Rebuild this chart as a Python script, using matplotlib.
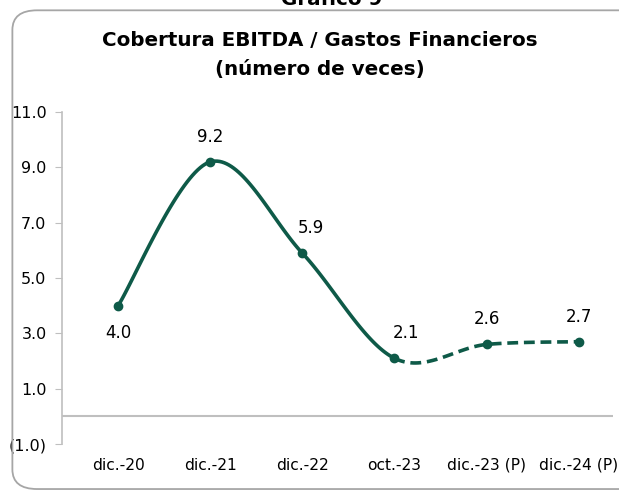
import numpy as np
import matplotlib.pyplot as plt
from matplotlib.patches import FancyBboxPatch

# Data
categories = ['dic.-20', 'dic.-21', 'dic.-22', 'oct.-23', 'dic.-23 (P)', 'dic.-24 (P)']
values = [4.0, 9.2, 5.9, 2.1, 2.6, 2.7]
labels = ['4.0', '9.2', '5.9', '2.1', '2.6', '2.7']
label_dx = [0, 0, 6, 8, 0, 0]  # small horizontal nudges of the data labels (points)
label_pos = ['below', 'above', 'above', 'above', 'above', 'above']
n_solid = 4  # first points drawn solid, the rest dashed (projections)

green = '#0e5a48'


# Excel-style smoothed line (Catmull-Rom / Bezier with 1/6 tangents)
def smooth(x, y, steps=40):
    pts = np.column_stack([x, y]).astype(float)
    ext = np.vstack([pts[0], pts, pts[-1]])
    segs = []
    for i in range(len(pts) - 1):
        p0, p1, p2, p3 = ext[i], ext[i + 1], ext[i + 2], ext[i + 3]
        c1 = p1 + (p2 - p0) / 6
        c2 = p2 - (p3 - p1) / 6
        t = np.linspace(0, 1, steps)[:, None]
        b = ((1 - t) ** 3) * p1 + 3 * ((1 - t) ** 2) * t * c1 + 3 * (1 - t) * t ** 2 * c2 + t ** 3 * p2
        segs.append(b)
    return segs


x = np.arange(len(categories))
segs = smooth(x, values)
solid = np.vstack(segs[:n_solid - 1])
dashed = np.vstack(segs[n_solid - 1:])

fig = plt.figure(figsize=(6.19, 4.91), dpi=100)
ax = fig.add_axes([0.100, 0.0957, 0.890, 0.676])

ax.plot(solid[:, 0], solid[:, 1], color=green, lw=2.6, solid_capstyle='round')
ax.plot(dashed[:, 0], dashed[:, 1], color=green, lw=2.6, ls=(0, (3, 1.6)))
ax.plot(x, values, 'o', color=green, ms=6)

for xi, v, lab, pos, dx in zip(x, values, labels, label_pos, label_dx):
    dy = -20 if pos == 'below' else 18
    ax.annotate(lab, (xi, v), xytext=(dx, dy), textcoords='offset points',
                ha='center', va='center', fontsize=12)

ax.axhline(0, color='#bfbfbf', lw=1.5)
ax.set_ylim(-1, 11)
ax.set_xlim(-0.61, 5.37)
ax.set_yticks([-1, 1, 3, 5, 7, 9, 11])
ax.set_yticklabels(['(1.0)', '1.0', '3.0', '5.0', '7.0', '9.0', '11.0'], fontsize=11.5)
ax.set_xticks(x)
ax.set_xticklabels(categories, fontsize=11.2)
ax.tick_params(axis='x', length=0, pad=10)
ax.tick_params(axis='y', length=5, color='#bfbfbf', pad=6)
for s in ['top', 'right', 'bottom']:
    ax.spines[s].set_visible(False)
ax.spines['left'].set_color('#bfbfbf')
ax.spines['left'].set_linewidth(1.2)

fig.text(0.517, 0.918, 'Cobertura EBITDA / Gastos Financieros', ha='center', va='center',
         fontsize=14.3, fontweight='semibold')
fig.text(0.517, 0.858, '(número de veces)', ha='center', va='center',
         fontsize=14.3, fontweight='semibold')
# chart number, cut off at the top edge as in the source
fig.text(0.535, 0.989, 'Gráfico 9', ha='center', va='baseline', fontsize=14.3, fontweight='semibold')

box = FancyBboxPatch((0.020, 0.004), 1.1, 0.975, boxstyle='round,pad=0,rounding_size=0.04',
                     transform=fig.transFigure, fill=False, ec='#a6a6a6', lw=1.3)
fig.patches.append(box)

fig.savefig('out.png', dpi=100)
